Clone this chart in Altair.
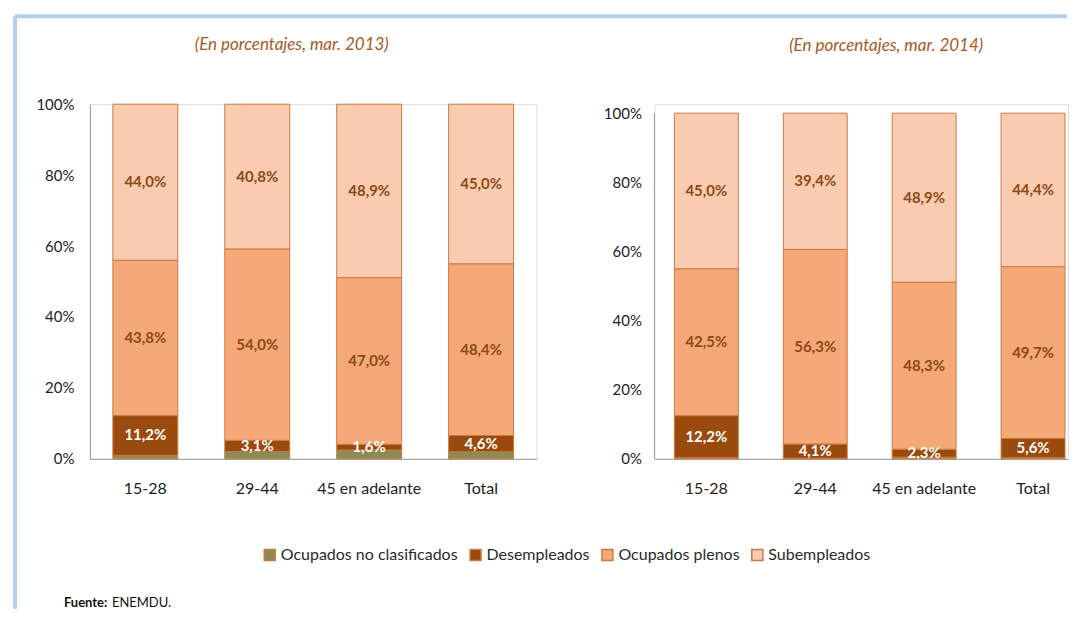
import altair as alt
import pandas as pd

cats = ["15-28", "29-44", "45 en adelante", "Total"]
series = ["Ocupados no clasificados", "Desempleados", "Ocupados plenos", "Subempleados"]
colors = ["#8C8A55", "#9A4A0C", "#F5A878", "#F9CBB1"]

nc_2013 = [1.0, 2.1, 2.5, 2.0]
des_2013 = [11.2, 3.1, 1.6, 4.6]
ple_2013 = [43.8, 54.0, 47.0, 48.4]
sub_2013 = [44.0, 40.8, 48.9, 45.0]

nc_2014 = [0.3, 0.2, 0.5, 0.3]
des_2014 = [12.2, 4.1, 2.3, 5.6]
ple_2014 = [42.5, 56.3, 48.3, 49.7]
sub_2014 = [45.0, 39.4, 48.9, 44.4]

titles = ["(En porcentajes, mar. 2013)", "(En porcentajes, mar. 2014)"]
y_ticks = [0, 20, 40, 60, 80, 100]


def build(vals):
    rows = []
    for si, (s, arr) in enumerate(zip(series, vals)):
        for c, v in zip(cats, arr):
            rows.append({"cat": c, "series": s, "value": v, "order": si})
    return pd.DataFrame(rows)


df13 = build([nc_2013, des_2013, ple_2013, sub_2013])
df14 = build([nc_2014, des_2014, ple_2014, sub_2014])

FONT = "Lato"
TEXT_BROWN = "#8E4A16"
TITLE_COLOR = "#A55A28"


def panel(df, width, height, ymax, xpad, title, title_x, title_y, axis_line, label_pad,
          extra=None, legend=None):
    base = alt.Chart(df)
    xenc = alt.X(
        "cat:N", sort=cats, title=None,
        scale=alt.Scale(paddingInner=xpad[0], paddingOuter=xpad[1], align=xpad[2]),
        axis=alt.Axis(labelAngle=0, labelFontSize=16, labelColor="#222", labelPadding=22,
                      ticks=False, domainColor="#9A9A9A", labelFont=FONT),
    )
    yscale = alt.Scale(domain=[0, ymax], nice=False)
    yaxis = alt.Axis(values=y_ticks, labelExpr="datum.value + '%'", grid=False, ticks=False,
                     domain=axis_line, domainColor="#9A9A9A", labelFontSize=15,
                     labelColor="#222", labelPadding=label_pad, title=None, labelFont=FONT)
    bars = base.mark_bar(stroke="#C97A40", strokeWidth=1).encode(
        x=xenc,
        y=alt.Y("value:Q", stack="zero", scale=yscale, axis=yaxis),
        color=alt.Color("series:N", scale=alt.Scale(domain=series, range=colors),
                        sort=series, title=None, legend=legend),
        order=alt.Order("order:Q", sort="ascending"),
    )
    labels = base.transform_stack(
        stack="value", groupby=["cat"], sort=[alt.SortField("order", "ascending")], as_=["y0", "y1"]
    ).transform_calculate(
        mid="(datum.y0 + datum.y1) / 2",
        label="replace(format(datum.value, '.1f'), '.', ',') + '%'",
    ).transform_filter(
        "datum.order > 0"
    ).mark_text(fontSize=15, fontWeight="bold", font=FONT, baseline="middle", clip=True).encode(
        x=alt.X("cat:N", sort=cats),
        y=alt.Y("mid:Q"),
        text="label:N",
        color=alt.condition("datum.order == 1", alt.value("white"), alt.value(TEXT_BROWN)),
    )
    ttl = alt.Chart(pd.DataFrame({"t": [title]})).mark_text(
        fontSize=17, fontStyle="italic", font=FONT, color=TITLE_COLOR, baseline="middle", align="center"
    ).encode(x=alt.value(title_x), y=alt.value(title_y), text="t:N")
    layers = [bars, labels, ttl]
    if extra:
        layers += extra
    return alt.layer(*layers).properties(width=width, height=height)


legend = alt.Legend(
    orient="none", legendX=172, legendY=443, direction="horizontal",
    symbolType="square", symbolSize=120, labelFontSize=16, labelFont=FONT,
    labelColor="#2A2A2A", columnPadding=8, labelOffset=3, title=None, labelLimit=0,
)

# left panel extras: frame and source note
frame_left = alt.Chart(pd.DataFrame({"a": [0]})).mark_rule(color="#B3CDEA", strokeWidth=4).encode(
    x=alt.value(-75), y=alt.value(-88), y2=alt.value(505))
frame_top = alt.Chart(pd.DataFrame({"a": [0]})).mark_rule(color="#B3CDEA", strokeWidth=4).encode(
    x=alt.value(-75), x2=alt.value(978), y=alt.value(-88))
src1 = alt.Chart(pd.DataFrame({"t": ["Fuente:"]})).mark_text(
    fontSize=13, fontWeight="bold", font=FONT, color="#111", align="left", baseline="middle"
).encode(x=alt.value(-26), y=alt.value(499), text="t:N")
src2 = alt.Chart(pd.DataFrame({"t": ["ENEMDU."]})).mark_text(
    fontSize=13, font=FONT, color="#111", align="left", baseline="middle"
).encode(x=alt.value(22), y=alt.value(499), text="t:N")

left = panel(df13, 447, 355, 100, (0.42, 0.205, 0.5), titles[0], 202, -59, True, 16,
             extra=[frame_left, frame_top, src1, src2], legend=legend)

ymax_r = 100 * 355 / 346
axis_rule = alt.Chart(pd.DataFrame({"a": [0]})).mark_rule(color="#9A9A9A").encode(
    x=alt.value(0), y=alt.datum(0), y2=alt.datum(100))
right = panel(df14, 414, 355, ymax_r, (0.413, 0.1055, 0.87), titles[1], 232, -58, False, 13,
              extra=[axis_rule], legend=legend)

chart = alt.hconcat(left, right, spacing=118, bounds="flush").resolve_scale(
    x="independent", y="independent", color="shared"
).properties(
    padding={"left": 4, "top": 5, "right": 0, "bottom": 0}
).configure_view(stroke=None).configure(background="white", font=FONT)

chart.save("out.html", embed_options={"renderer": "svg", "actions": False})
